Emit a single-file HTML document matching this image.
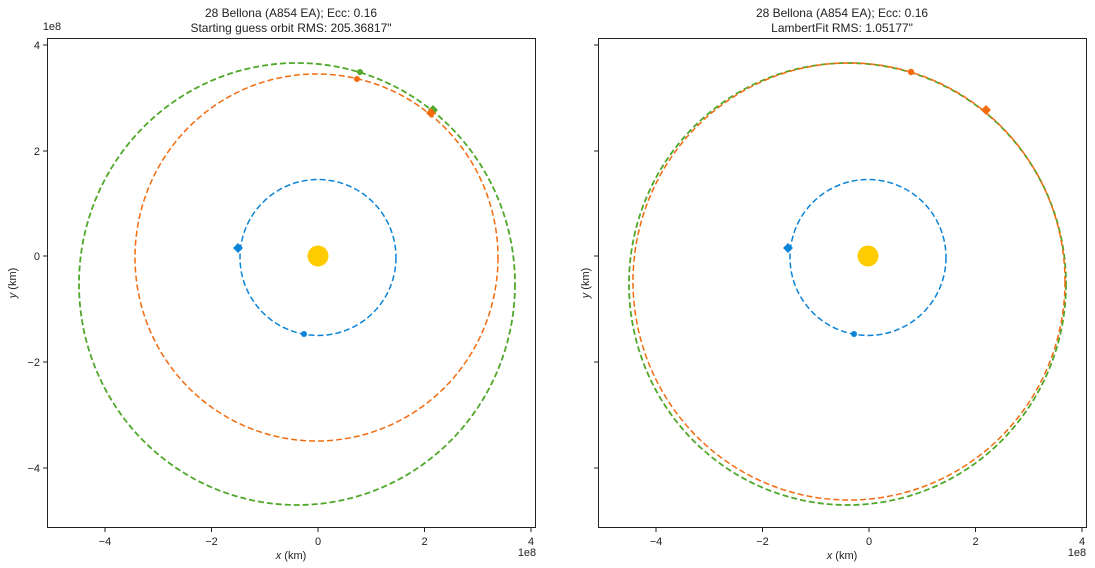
<!DOCTYPE html>
<html><head><meta charset="utf-8"><style>
html,body{margin:0;padding:0;background:#fff}
svg{display:block;font-family:"Liberation Sans","DejaVu Sans",sans-serif}
</style></head><body>
<svg width="1095" height="568" viewBox="0 0 1095 568" xmlns="http://www.w3.org/2000/svg">
<rect width="1095" height="568" fill="#fff"/>
<defs>
<g id="blue">
  <circle cx="318" cy="257.5" r="78" fill="none" stroke="#0b84d8" stroke-width="1.5" stroke-dasharray="6,3"/>
  <circle cx="318" cy="256" r="10.5" fill="#ffcc00"/>
  <rect x="234.5" y="244.5" width="7" height="7" fill="#0b84d8" transform="rotate(45 238 248)"/>
  <circle cx="304" cy="334" r="3" fill="#0b84d8"/>
</g>
</defs>
<!-- Left panel -->
<g font-size="12" fill="#222">
<text x="291" y="17" text-anchor="middle">28 Bellona (A854 EA); Ecc: 0.16</text>
<text x="291" y="32" text-anchor="middle">Starting guess orbit RMS: 205.36817"</text>
<text x="842" y="17" text-anchor="middle">28 Bellona (A854 EA); Ecc: 0.16</text>
<text x="842" y="32" text-anchor="middle">LambertFit RMS: 1.05177"</text>
</g>
<use href="#blue"/>
<ellipse cx="316.5" cy="257.5" rx="181.5" ry="183.5" fill="none" stroke="#f26b0f" stroke-width="1.5" stroke-dasharray="6,3"/>
<ellipse cx="297" cy="284" rx="218" ry="221" fill="none" stroke="#4fa82a" stroke-width="1.8" stroke-dasharray="6,3"/>
<circle cx="357" cy="79" r="3" fill="#f26b0f"/>
<circle cx="360" cy="72" r="3" fill="#4fa82a"/>
<rect x="429.5" y="106.5" width="7" height="7" fill="#4fa82a" transform="rotate(45 433 110)"/>
<rect x="427.5" y="109.5" width="7" height="7" fill="#f26b0f" transform="rotate(45 431 113)"/>
<rect x="47.5" y="38.5" width="488" height="489" fill="none" stroke="#222" stroke-width="1"/>

<!-- Right panel -->
<use href="#blue" transform="translate(550 0)"/>
<ellipse cx="847.5" cy="284" rx="218.5" ry="221" fill="none" stroke="#4fa82a" stroke-width="1.8" stroke-dasharray="6,3"/>
<ellipse cx="849" cy="281.5" rx="216" ry="218.5" fill="none" stroke="#f26b0f" stroke-width="1.5" stroke-dasharray="6,3"/>
<circle cx="911" cy="72" r="3.2" fill="#f26b0f"/>
<rect x="982.5" y="106.5" width="7" height="7" fill="#f26b0f" transform="rotate(45 986 110)"/>
<rect x="598.5" y="38.5" width="488" height="489" fill="none" stroke="#222" stroke-width="1"/>

<!-- ticks -->
<g stroke="#222" stroke-width="1">
  <path d="M105,528v4M211.5,528v4M318,528v4M424.5,528v4M531,528v4"/>
  <path d="M656,528v4M762.5,528v4M869,528v4M975.5,528v4M1082,528v4"/>
  <path d="M47,45h-4M47,151h-4M47,256h-4M47,362h-4M47,468h-4"/>
  <path d="M598,45h-4M598,151h-4M598,256h-4M598,362h-4M598,468h-4"/>
</g>
<g font-size="11" fill="#222" text-anchor="middle">
  <text x="105" y="545">−4</text><text x="211.5" y="545">−2</text><text x="318" y="545">0</text><text x="424.5" y="545">2</text><text x="531" y="545">4</text>
  <text x="656" y="545">−4</text><text x="762.5" y="545">−2</text><text x="869" y="545">0</text><text x="975.5" y="545">2</text><text x="1082" y="545">4</text>
  <text x="291" y="559"><tspan font-style="italic">x</tspan> (km)</text>
  <text x="842" y="559"><tspan font-style="italic">x</tspan> (km)</text>
  <text x="527" y="556">1e8</text>
  <text x="1077" y="556">1e8</text>
  <text x="52" y="30">1e8</text>
</g>
<g font-size="11" fill="#222" text-anchor="end">
  <text x="40" y="49">4</text><text x="40" y="155">2</text><text x="40" y="260">0</text><text x="40" y="366">−2</text><text x="40" y="472">−4</text>
</g>
<g font-size="11" fill="#222" text-anchor="middle">
  <text transform="translate(16 283) rotate(-90)"><tspan font-style="italic">y</tspan> (km)</text>
  <text transform="translate(589 283) rotate(-90)"><tspan font-style="italic">y</tspan> (km)</text>
</g>
</svg>
</body></html>
